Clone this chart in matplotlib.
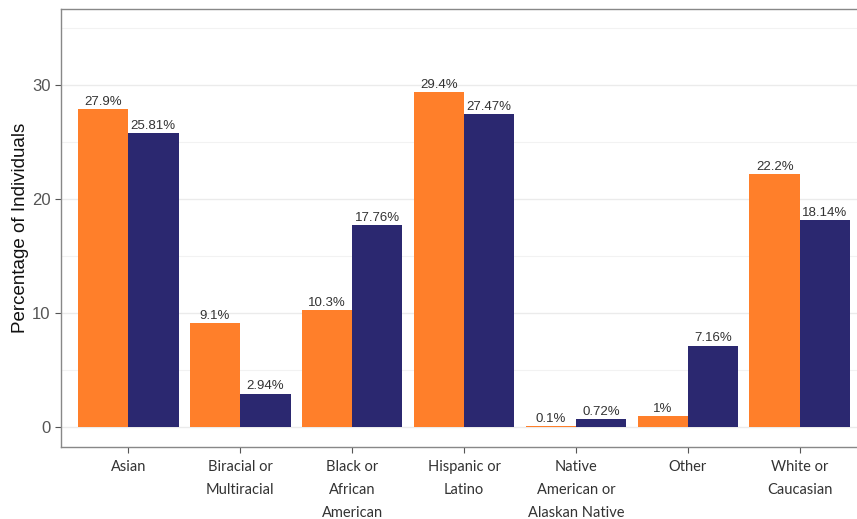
import numpy as np
import matplotlib.pyplot as plt
from matplotlib.ticker import MultipleLocator

# Data
categories = ['Asian', 'Biracial or\nMultiracial', 'Black or\nAfrican\nAmerican',
              'Hispanic or\nLatino', 'Native\nAmerican or\nAlaskan Native',
              'Other', 'White or\nCaucasian']
orange_vals = [27.9, 9.1, 10.3, 29.4, 0.1, 1.0, 22.2]
navy_vals = [25.81, 2.94, 17.76, 27.47, 0.72, 7.16, 18.14]
orange_labels = ['27.9%', '9.1%', '10.3%', '29.4%', '0.1%', '1%', '22.2%']
navy_labels = ['25.81%', '2.94%', '17.76%', '27.47%', '0.72%', '7.16%', '18.14%']

orange = '#FF7F2A'
navy = '#2B2870'

fig = plt.figure(figsize=(8.57, 5.19), dpi=100)
ax = fig.add_axes([0.0712, 0.1387, 0.9405, 0.844])

x = np.arange(len(categories))
w = 0.45
ax.bar(x - w / 2, orange_vals, width=w, color=orange, zorder=3)
ax.bar(x + w / 2, navy_vals, width=w, color=navy, zorder=3)

for xi, v, lab in zip(x - w / 2, orange_vals, orange_labels):
    ax.text(xi, v + 0.1, lab, ha='center', va='bottom', fontsize=9.5,
            color='#333333', family='Liberation Sans', zorder=4)
for xi, v, lab in zip(x + w / 2, navy_vals, navy_labels):
    ax.text(xi, v + 0.1, lab, ha='center', va='bottom', fontsize=9.5,
            color='#333333', family='Liberation Sans', zorder=4)

ax.set_xlim(-0.6, len(categories) - 0.4)
ax.set_ylim(-1.75, 36.7)
ax.yaxis.set_major_locator(MultipleLocator(10))
ax.yaxis.set_minor_locator(MultipleLocator(5))
ax.grid(True, which='major', axis='y', color='#EBEBEB', linewidth=1.0, zorder=0)
ax.grid(True, which='minor', axis='y', color='#F2F2F2', linewidth=0.8, zorder=0)
ax.tick_params(axis='y', which='minor', length=0)
ax.tick_params(axis='both', which='major', length=4, color='#555555',
               labelcolor='#555555', labelsize=12)
ax.tick_params(axis='x', pad=5)

ax.set_xticks(x)
ax.set_xticklabels(categories, fontsize=10.5, color='#333333', family='Lato',
                   linespacing=1.85, va='top')
for lab in ax.get_yticklabels():
    lab.set_family('Liberation Sans')

for s in ax.spines.values():
    s.set_color('#888888')
    s.set_linewidth(1.0)

ax.set_ylabel('Percentage of Individuals', fontsize=13.5, family='Liberation Sans',
              color='#111111', labelpad=2)

fig.savefig('out.png', dpi=100)
